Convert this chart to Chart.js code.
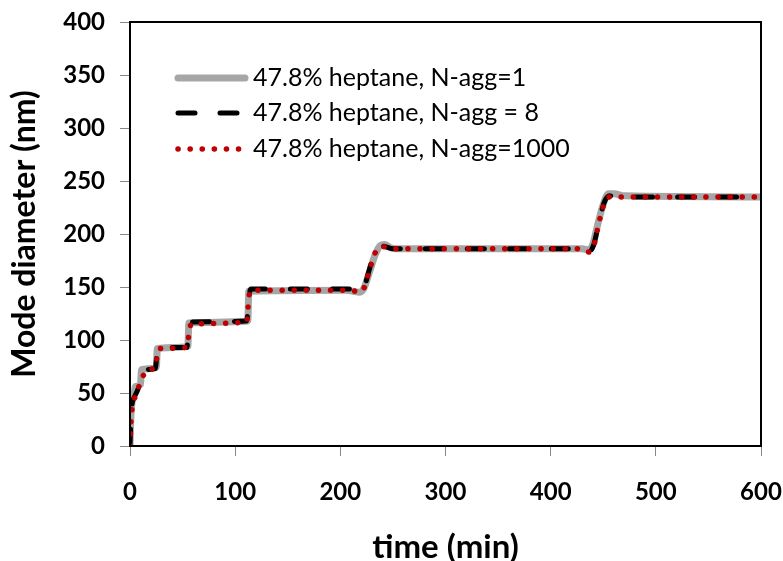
<!DOCTYPE html>
<html><head><meta charset="utf-8">
<script src="https://cdn.jsdelivr.net/npm/chart.js@4/dist/chart.umd.min.js"></script>
<style>html,body{margin:0;padding:0;background:#fff}#wrap{width:783px;height:561px}</style>
</head><body><div id="wrap"><canvas id="c" width="783" height="561"></canvas></div>
<script>
const labels = ["47.8% heptane, N-agg=1", "47.8% heptane, N-agg = 8", "47.8% heptane, N-agg=1000"];
const xTicks = [0,100,200,300,400,500,600];
const yTicks = [0,50,100,150,200,250,300,350,400];

const tAgg1 = [0,0.5,1,2,4,5,10,11,25,26,55,56,112,113,205,212,218,222,228,233,238,242,248,260,430,436,440,445,450,455,460,470,600];
const dAgg1 = [0,18,30,42,50,56,58,72,74,92,94,116,118,146,147,146,145,148,165,180,189,190,187,186,186,185,190,210,228,238,238,236,235];

const tAgg8 = [0,1,2,4,6,8,10,12,24,26,28,54,56,58,111,113,115,210,218,222,228,233,238,243,250,430,436,441,446,451,456,462,600];
const dAgg8 = [0,30,40,46,50,55,65,72,73,90,93,93,110,117,118,140,148,148,145,148,168,183,189,188,186,186,183,190,212,230,236,235,235];

const tAgg1000 = [0,0.5,1,2,3,5,8,12,16,24,26,28,54,56,58,111,112,113,115,210,218,222,228,233,238,243,250,430,436,441,446,451,456,462,600];
const dAgg1000 = [0,12,25,35,40,47,55,65,72,74,86,92,93,105,115,117,128,140,147,147,145,148,167,182,188,188,186,186,183,189,211,229,235,235,235];

const toPts = (t, d) => t.map((v, i) => ({x: v, y: d[i]}));
const FONT = "Lato, 'Open Sans', sans-serif";

const series = [
  {label: labels[0], data: toPts(tAgg1, dAgg1), borderColor: '#a6a6a6', borderWidth: 7, borderDash: [], order: 3},
  {label: labels[1], data: toPts(tAgg8, dAgg8), borderColor: '#000000', borderWidth: 5, borderDash: [17, 25], order: 2},
  {label: labels[2], data: toPts(tAgg1000, dAgg1000), borderColor: '#c00000', borderWidth: 5.5, borderDash: [0.1, 12], order: 1}
];
series.forEach(s => { s.showLine = true; s.pointRadius = 0; s.fill = false; s.cubicInterpolationMode = 'monotone'; s.borderCapStyle = 'round'; s.borderJoinStyle = 'round'; });

const boxPlugin = {
  id: 'box',
  afterDatasetsDraw(chart) {
    const {ctx, chartArea: a} = chart;
    ctx.save();
    ctx.strokeStyle = '#000'; ctx.lineWidth = 2;
    ctx.strokeRect(a.left, a.top, a.right - a.left, a.bottom - a.top);
    ctx.restore();
  },
  afterDraw(chart) {
    const {ctx} = chart;
    const rows = [78, 113, 149];
    ctx.save();
    chart.data.datasets.forEach((ds, i) => {
      const y = rows[i];
      ctx.beginPath();
      ctx.strokeStyle = ds.borderColor;
      ctx.lineWidth = ds.borderWidth;
      ctx.lineCap = ds.borderCapStyle;
      ctx.setLineDash(ds.borderDash);
      ctx.moveTo(178, y); ctx.lineTo(245, y);
      ctx.stroke();
      ctx.setLineDash([]);
      ctx.fillStyle = '#000';
      ctx.font = "25px " + FONT;
      ctx.textBaseline = 'middle';
      ctx.fillText(ds.label, 253, y);
    });
    ctx.restore();
  }
};

new Chart(document.getElementById('c'), {
  type: 'scatter',
  data: {datasets: series},
  options: {
    responsive: false, animation: false, devicePixelRatio: 1,
    layout: {padding: {top: 22, right: 22, left: 0, bottom: 0}},
    plugins: {legend: {display: false}, tooltip: {enabled: false}},
    scales: {
      x: {
        type: 'linear', min: 0, max: 600,
        afterBuildTicks: s => { s.ticks = xTicks.map(v => ({value: v})); },
        afterFit: s => { s.height = 115; s.paddingLeft = 0; s.paddingRight = 0; },
        grid: {drawOnChartArea: false, drawTicks: true, tickLength: 10, color: '#888', tickWidth: 1},
        border: {display: true, color: '#000', width: 2},
        ticks: {padding: 22, color: '#000', font: {family: FONT, size: 24, weight: 'bold'}},
        title: {display: true, text: 'time (min)', color: '#000', font: {family: FONT, size: 33, weight: 'bold', lineHeight: 0.8}, padding: {top: 0, bottom: 0}}
      },
      y: {
        type: 'linear', min: 0, max: 400,
        afterBuildTicks: s => { s.ticks = yTicks.map(v => ({value: v})); },
        afterFit: s => { s.width = 130; s.paddingTop = 0; s.paddingBottom = 0; },
        grid: {drawOnChartArea: false, drawTicks: true, tickLength: 10, color: '#888', tickWidth: 1},
        border: {display: true, color: '#000', width: 2},
        ticks: {padding: 15, color: '#000', font: {family: FONT, size: 24, weight: 'bold'}},
        title: {display: true, text: 'Mode diameter (nm)', color: '#000', font: {family: FONT, size: 32, weight: 'bold', lineHeight: 0.8}, padding: {top: 12, bottom: 0}}
      }
    }
  },
  plugins: [boxPlugin]
});
</script></body></html>
